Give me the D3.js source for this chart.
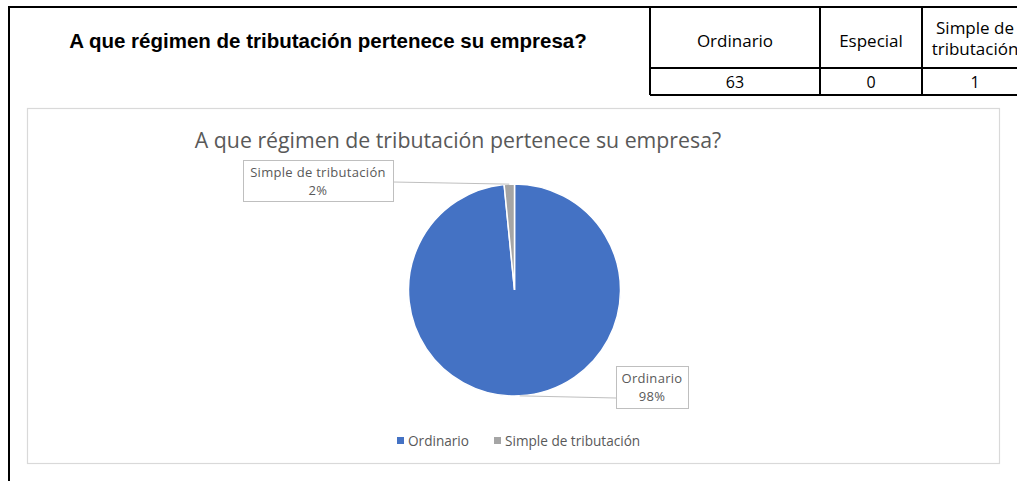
<!DOCTYPE html>
<html lang="es">
<head>
<meta charset="UTF-8">
<title>Régimen de tributación</title>
<script src="https://d3js.org/d3.v7.min.js"></script>
<style>
  body { margin: 0; background: #fff; }
  svg { display: block; }
</style>
</head>
<body>
<script>
  // datos de la tabla / grafico
  const categories = ["Ordinario", "Especial", "Simple de tributación"];
  const values = [63, 0, 1];
  const colors = ["#4472C4", "#ED7D31", "#A5A5A5"];
  const question = "A que régimen de tributación pertenece su empresa?";

  const W = 1017, H = 481;
  const svg = d3.select("body").append("svg").attr("width", W).attr("height", H);

  // marco negro de la hoja
  svg.append("path")
    .attr("d", "M9,481 V7 H650")
    .attr("fill", "none").attr("stroke", "#000").attr("stroke-width", 2);

  svg.append("text")
    .attr("x", 328).attr("y", 48)
    .attr("text-anchor", "middle")
    .attr("font-family", "Liberation Sans, Arial")
    .attr("font-weight", "bold")
    .attr("font-size", 20.5)
    .attr("fill", "#000")
    .text(question);

  // tabla
  const colX = d3.scaleOrdinal().domain(categories).range([650, 820, 922]);
  const colW = { "Ordinario": 170, "Especial": 102, "Simple de tributación": 106 };
  const table = svg.append("g");
  table.append("path")
    .attr("d", "M650,7 H1017 M650,68 H1017 M650,95 H1017 M650,7 V95 M820,7 V95 M922,7 V95")
    .attr("fill", "none").attr("stroke", "#000").attr("stroke-width", 2);

  const cells = table.selectAll("g.cell").data(categories).join("g").attr("class", "cell");
  cells.each(function (c, i) {
    const g = d3.select(this);
    const cx = colX(c) + colW[c] / 2;
    const words = c === "Simple de tributación" ? ["Simple de", "tributación"] : [c];
    words.forEach((w, j) => {
      g.append("text")
        .attr("x", cx)
        .attr("y", words.length > 1 ? 34 + j * 21 : 47)
        .attr("text-anchor", "middle")
        .attr("font-family", "Open Sans, Noto Sans")
        .attr("font-size", 17)
        .attr("fill", "#000")
        .text(w);
    });
    g.append("text")
      .attr("x", cx).attr("y", 88)
      .attr("text-anchor", "middle")
      .attr("font-family", "Open Sans, Noto Sans")
      .attr("font-size", 16)
      .attr("fill", "#000")
      .text(values[i]);
  });

  // area del grafico
  svg.append("rect")
    .attr("x", 27.5).attr("y", 108.5).attr("width", 972).attr("height", 355)
    .attr("fill", "#fff").attr("stroke", "#d9d9d9").attr("stroke-width", 1.2);

  svg.append("text")
    .attr("x", 458).attr("y", 148)
    .attr("text-anchor", "middle")
    .attr("font-family", "Open Sans, Noto Sans")
    .attr("font-size", 21.3)
    .attr("fill", "#595959")
    .text(question);

  const cx = 514.5, cy = 290, r = 106;
  const total = d3.sum(values);
  const data = categories.map((c, i) => ({ name: c, value: values[i], color: colors[i] }));
  const pie = d3.pie().value(d => d.value).sort(null);
  const arcs = pie(data);
  const arc = d3.arc().innerRadius(0).outerRadius(r);

  const pg = svg.append("g").attr("transform", `translate(${cx},${cy})`);
  pg.selectAll("path").data(arcs.filter(a => a.data.value > 0)).join("path")
    .attr("d", arc)
    .attr("fill", d => d.data.color)
    .attr("stroke", "#fff").attr("stroke-width", 1.5);

  // etiquetas de datos
  const labelBox = {
    "Ordinario": { x: 616, y: 366, w: 72, h: 42, anchor: [616, 398] },
    "Simple de tributación": { x: 243, y: 160, w: 150, h: 41, anchor: [393, 182] }
  };
  const pct = d3.format(".0%");
  arcs.filter(a => a.data.value > 0).forEach(a => {
    const b = labelBox[a.data.name];
    const mid = (a.startAngle + a.endAngle) / 2;
    const px = cx + r * Math.sin(mid), py = cy - r * Math.cos(mid);
    svg.append("line")
      .attr("x1", b.anchor[0]).attr("y1", b.anchor[1])
      .attr("x2", px).attr("y2", py)
      .attr("stroke", "#bfbfbf").attr("stroke-width", 1);
    svg.append("rect")
      .attr("x", b.x + 0.5).attr("y", b.y + 0.5).attr("width", b.w).attr("height", b.h)
      .attr("fill", "#fff").attr("stroke", "#bfbfbf");
    const t = svg.append("text")
      .attr("text-anchor", "middle")
      .attr("font-family", "Open Sans, Noto Sans")
      .attr("font-size", 13)
      .attr("letter-spacing", 0.3)
      .attr("fill", "#595959");
    t.append("tspan").attr("x", b.x + b.w / 2).attr("y", b.y + 17).text(a.data.name);
    t.append("tspan").attr("x", b.x + b.w / 2).attr("y", b.y + 35).text(pct(a.data.value / total));
  });

  // leyenda
  const legendItems = data.filter(d => d.value > 0);
  const legendX = d3.scaleOrdinal().domain(legendItems.map(d => d.name)).range([397, 494]);
  const lg = svg.append("g");
  legendItems.forEach(d => {
    lg.append("rect")
      .attr("x", legendX(d.name)).attr("y", 437).attr("width", 7).attr("height", 7)
      .attr("fill", d.color);
    lg.append("text")
      .attr("x", legendX(d.name) + 11).attr("y", 445.5)
      .attr("font-family", "Open Sans, Noto Sans")
      .attr("font-size", 13.6)
      .attr("fill", "#595959")
      .text(d.name);
  });
</script>
</body>
</html>
